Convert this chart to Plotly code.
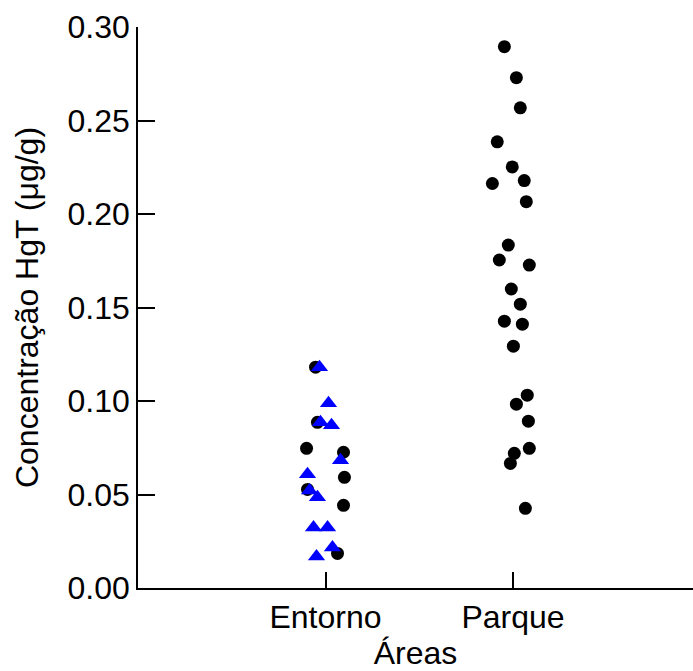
import plotly.graph_objects as go

categories = ["Entorno", "Parque"]

# Entorno - black circles
ent_circ_y = [0.1181, 0.0886, 0.0747, 0.0726, 0.0592, 0.0527, 0.0442, 0.0185]
ent_circ_jit = [-0.053, -0.043, -0.101, 0.096, 0.101, -0.096, 0.096, 0.064]

# Entorno - blue triangles
ent_tri_y = [0.1181, 0.0988, 0.0886, 0.0870, 0.0683, 0.0608, 0.0522, 0.0485, 0.0324, 0.0324, 0.0217, 0.0169]
ent_tri_jit = [-0.032, 0.016, -0.027, 0.032, 0.080, -0.096, -0.085, -0.043, -0.064, 0.011, 0.037, -0.048]

# Parque - black circles
par_y = [0.2895, 0.2729, 0.2568, 0.2386, 0.2252, 0.2163, 0.2179, 0.2066, 0.1834, 0.1754, 0.1727,
         0.1599, 0.1518, 0.1427, 0.1411, 0.1293, 0.1031, 0.0983, 0.0892, 0.0747, 0.0720, 0.0666, 0.0426]
par_jit = [-0.046, 0.018, 0.039, -0.084, -0.004, -0.110, 0.060, 0.071, -0.025, -0.073, 0.087,
           -0.009, 0.039, -0.046, 0.050, 0.002, 0.076, 0.018, 0.082, 0.087, 0.007, -0.014, 0.066]

y_ticks = [0.00, 0.05, 0.10, 0.15, 0.20, 0.25, 0.30]
y_ticktext = ["0.00", "0.05", "0.10", "0.15", "0.20", "0.25", "0.30"]

FONT = "Liberation Sans, Arial, sans-serif"
FS = 32

fig = go.Figure()
fig.add_trace(go.Scatter(
    x=[0 + j for j in ent_circ_jit], y=ent_circ_y, mode="markers",
    marker=dict(symbol="circle", size=13, color="black"), showlegend=False))
fig.add_trace(go.Scatter(
    x=[1 + j for j in par_jit], y=par_y, mode="markers",
    marker=dict(symbol="circle", size=13, color="black"), showlegend=False))
fig.add_trace(go.Scatter(
    x=[0 + j for j in ent_tri_jit], y=ent_tri_y, mode="markers",
    marker=dict(symbol="triangle-up", size=15, color="#0000FF"), showlegend=False))

fig.update_layout(
    width=693, height=671,
    margin=dict(l=138, r=0, t=27, b=83),
    paper_bgcolor="white", plot_bgcolor="white",
    font=dict(family=FONT, color="black", size=FS),
    xaxis=dict(
        range=[-1, 1.96], tickmode="array", tickvals=[0, 1], ticktext=categories,
        showline=True, linecolor="black", linewidth=1.5,
        ticks="inside", ticklen=16, tickwidth=1.5, tickcolor="black",
        showgrid=False, zeroline=False,
        tickfont=dict(size=FS, family=FONT),
        title=dict(text="Áreas", font=dict(size=FS, family=FONT), standoff=0),
    ),
    yaxis=dict(
        range=[0, 0.30], tickmode="array", tickvals=y_ticks, ticktext=y_ticktext,
        showline=True, linecolor="black", linewidth=1.5,
        ticks="inside", ticklen=17, tickwidth=1.5, tickcolor="black",
        showgrid=False, zeroline=False,
        tickfont=dict(size=FS, family=FONT),
        title=dict(text="Concentração HgT (μg/g)", font=dict(size=FS, family=FONT), standoff=19),
    ),
)

fig.write_html("out.html", config={"displayModeBar": False},
               post_script="document.body.style.margin='0';")
